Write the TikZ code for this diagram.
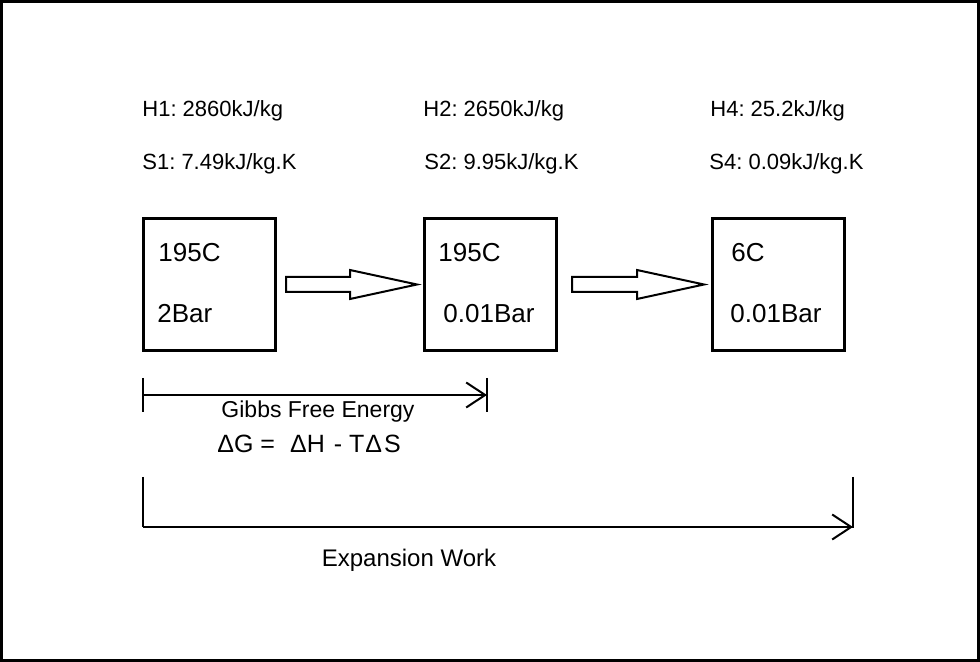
\documentclass[tikz,border=0pt]{standalone}
\usepackage{fontspec}
\setmainfont{Liberation Sans}
\frenchspacing
\usetikzlibrary{calc, arrows.meta}

\begin{document}
\begin{tikzpicture}[x = 0.5pt, y = -0.5pt,
		state/.style = {draw, line width = 1.5pt, minimum width = 66pt, minimum height = 66pt, inner sep = 0pt},
		prop/.style = {anchor = base west, inner sep = 0pt, font = \fontsize{11}{13}\selectfont},
		cond/.style = {anchor = base west, inner sep = 0pt, font = \fontsize{13}{15}\selectfont},
		fat/.style = {draw, line width = 1pt, line join = miter},
		dim/.style = {line width = 1pt},
		barb/.style = {-{Straight Barb[length = 9.5pt, width = 12.5pt, line width = 1pt]}}]
		\useasboundingbox (0,0) rectangle (980,662);
		\draw [line width = 1.5pt] (1.5,1.5) rectangle (978.5,660.5);
		
		% states
		\node [state] (b1) at (209.5,284.5) {};
		\node [state] (b2) at (490.5,284.5) {};
		\node [state] (b3) at (778.5,284.5) {};
		
		\node [prop] (h1) at (142,117) {H1: 2860kJ/kg};
		\node [prop] (s1) at (142,170) {S1: 7.49kJ/kg.K};
		\node [prop] (h2) at (423,117) {H2: 2650kJ/kg};
		\node [prop] (s2) at (424,170) {S2: 9.95kJ/kg.K};
		\node [prop] (h4) at (710,117) {H4: 25.2kJ/kg};
		\node [prop] (s4) at (709,170) {S4: 0.09kJ/kg.K};
		
		\node [cond] (t1) at (158,262) {195C};
		\node [cond] (p1) at (157,323) {2Bar};
		\node [cond] (t2) at (438,262) {195C};
		\node [cond] (p2) at (443,323) {0.01Bar};
		\node [cond] (t3) at (731,262) {6C};
		\node [cond] (p3) at (730,323) {0.01Bar};
		
		% block arrows
		\draw [fat] ($(b1.east)+(9,-7.5)$) -- ++(64,0) -- ++(0,-7) -- ($(b2.west)+(-6,0)$)
			-- ($(b1.east)+(73,14.5)$) -- ++(0,-7) -- ($(b1.east)+(9,7.5)$) -- cycle;
		\draw [fat] ($(b2.east)+(14,-7.5)$) -- ++(65,0) -- ++(0,-7) -- ($(b3.west)+(-7,0)$)
			-- ($(b2.east)+(79,14.5)$) -- ++(0,-7) -- ($(b2.east)+(14,7.5)$) -- cycle;
		
		% Gibbs
		\coordinate (g1) at (142.5,395);
		\coordinate (g2) at (487,395);
		\draw [dim] ($(g1)+(0,-17)$) -- ($(g1)+(0,17)$);
		\draw [dim] ($(g2)+(0,-17)$) -- ($(g2)+(0,17)$);
		\draw [dim, barb] (g1) -- (g2);
		\node [anchor = base, inner sep = 0pt, font = \fontsize{11.5}{13}\selectfont] (gibbs) at (318,418) {Gibbs Free Energy};
		\node [anchor = base west, inner sep = 0pt, font = \fontsize{12.5}{14}\selectfont] (dg) at (217,453)
			{ΔG =\hspace{7.5pt}ΔH\hspace{4.5pt}- T\hspace{0.5pt}Δ\hspace{1pt}S};
		
		% expansion
		\coordinate (e1) at (142.5,527);
		\coordinate (e2) at (853,527);
		\draw [dim] ($(e1)+(0,-50)$) -- (e1);
		\draw [dim] ($(e2)+(0,-50)$) -- ($(e2)+(0,1)$);
		\draw [dim, barb] (e1) -- (e2);
		\node [anchor = base, inner sep = 0pt, font = \fontsize{12}{14}\selectfont] (work) at (409,567) {Expansion Work};
	\end{tikzpicture}
\end{document}
